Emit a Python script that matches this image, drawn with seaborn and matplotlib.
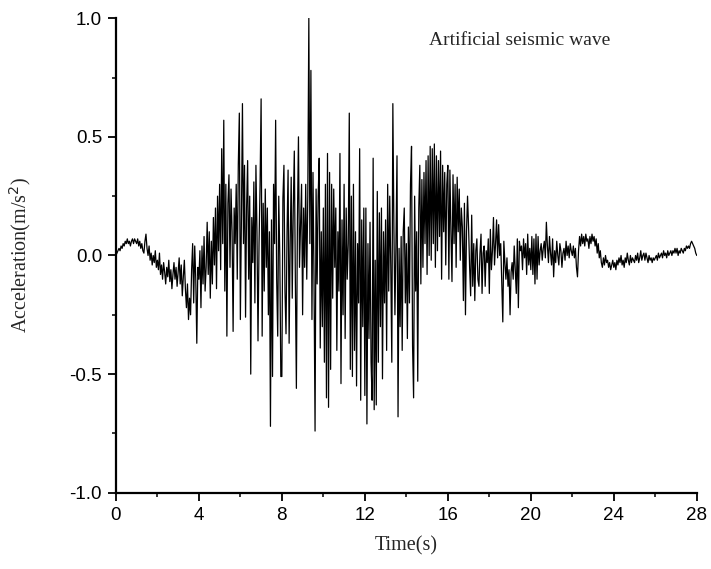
import numpy as np
import pandas as pd
import seaborn as sns
import matplotlib.pyplot as plt
from matplotlib.ticker import MultipleLocator

# sampling step of the record (s)
dt = 0.05

# acceleration (m/s^2)
acc_0_4 = [
    0.00, 0.01, 0.02, 0.03, 0.02, 0.04, 0.03, 0.05, 0.04, 0.06, 0.05, 0.07, 0.05, 0.06, 0.04, 0.06, 0.07, 0.05, 0.07, 0.06,
    0.05, 0.07, 0.04, 0.06, 0.03, 0.05, 0.02, 0.01, 0.06, 0.09, 0.03, 0.00, 0.04, -0.02, 0.01, -0.04, 0.00, -0.03, 0.02, -0.05,
    -0.02, -0.06, 0.01, -0.08, -0.04, -0.10, -0.03, -0.07, -0.12, -0.05, -0.09, -0.02, -0.11, -0.06, -0.14, -0.08, -0.03, -0.10, -0.05, -0.13,
    -0.07, -0.01, -0.12, -0.04, -0.17, -0.09, -0.02, -0.14, -0.22, -0.12, -0.27, -0.18, -0.25, -0.06, 0.05, -0.20, 0.04, -0.10, -0.37, -0.05,
]
acc_4_8 = [
    -0.10, 0.02, -0.22, 0.04, -0.12, 0.08, -0.15, -0.05, 0.14, -0.08, 0.10, -0.18, 0.06, -0.12, 0.16, -0.04, 0.20, -0.14, 0.25, 0.02,
    0.30, -0.06, 0.45, 0.05, 0.57, -0.15, 0.30, -0.34, 0.22, 0.34, -0.05, 0.28, 0.10, -0.32, 0.20, 0.05, 0.30, -0.10, 0.38, 0.60,
    -0.27, 0.15, 0.64, 0.05, 0.38, -0.26, 0.20, 0.40, -0.10, 0.25, -0.50, 0.16, -0.03, 0.31, -0.20, 0.38, 0.10, -0.36, 0.05, 0.30,
    0.66, -0.34, 0.22, -0.15, 0.28, -0.05, 0.20, -0.25, 0.10, -0.72, 0.15, -0.51, 0.30, 0.05, 0.57, -0.10, -0.34, 0.25, 0.00, -0.51,
]
acc_8_12 = [
    -0.51, 0.24, 0.38, -0.15, -0.33, 0.10, 0.36, -0.37, 0.05, 0.33, -0.18, 0.20, 0.44, -0.10, -0.56, 0.15, 0.50, -0.05, 0.12, 0.30,
    -0.25, 0.20, -0.05, 0.30, -0.10, 0.25, 1.00, 0.05, 0.78, -0.27, 0.35, -0.10, -0.74, 0.28, -0.12, 0.25, 0.41, -0.39, 0.10, -0.30,
    0.20, -0.45, 0.30, -0.60, 0.43, -0.64, 0.35, -0.48, 0.30, -0.18, 0.28, -0.05, 0.20, -0.40, 0.10, -0.15, 0.43, -0.54, 0.15, -0.25,
    0.30, -0.35, 0.20, -0.10, 0.05, 0.60, -0.48, 0.25, -0.51, 0.30, -0.40, 0.10, -0.55, 0.05, -0.20, 0.45, -0.61, 0.15, -0.30, 0.20,
]
acc_12_16 = [
    -0.59, 0.20, -0.71, 0.05, -0.35, 0.14, -0.45, -0.61, 0.41, -0.65, -0.02, -0.63, 0.27, -0.45, 0.18, -0.30, 0.20, -0.52, 0.10, -0.20,
    0.15, -0.40, 0.30, -0.15, 0.25, -0.05, -0.45, 0.64, 0.12, -0.25, 0.05, 0.42, -0.68, 0.03, -0.30, 0.08, -0.40, 0.10, 0.20, -0.20,
    0.05, -0.35, 0.12, -0.20, 0.30, 0.46, -0.38, -0.60, 0.25, -0.15, 0.10, -0.53, 0.20, 0.38, -0.12, 0.32, -0.05, 0.35, 0.05, 0.40,
    -0.08, 0.42, 0.00, 0.46, -0.02, 0.45, 0.05, 0.47, -0.05, 0.42, 0.02, 0.40, 0.08, 0.44, -0.10, 0.38, 0.10, 0.35, -0.04, 0.30,
]
acc_16_20 = [
    0.38, -0.10, 0.36, 0.10, -0.11, 0.34, 0.05, 0.30, -0.05, 0.33, 0.10, 0.28, -0.02, 0.20, 0.12, -0.19, 0.22, -0.25, 0.10, 0.25,
    0.12, -0.05, -0.17, 0.17, -0.13, 0.05, -0.19, 0.02, 0.07, -0.10, -0.13, 0.01, 0.09, -0.16, 0.01, 0.04, -0.13, 0.02, -0.03, 0.07,
    -0.16, 0.11, -0.06, 0.02, 0.16, -0.04, 0.05, 0.15, -0.01, 0.13, 0.00, 0.05, -0.12, -0.28, 0.06, -0.03, -0.10, -0.01, -0.13, -0.06,
    -0.25, -0.07, -0.03, -0.10, 0.04, -0.06, -0.16, 0.07, -0.22, 0.06, 0.02, 0.04, -0.06, 0.07, -0.01, 0.05, -0.08, 0.09, -0.04, 0.03,
]
acc_20_24 = [
    -0.06, 0.08, -0.08, 0.07, -0.12, 0.09, -0.10, 0.08, -0.04, 0.02, 0.05, -0.02, 0.03, 0.06, -0.01, 0.14, 0.04, -0.03, 0.08, 0.01,
    -0.04, 0.07, -0.09, 0.02, -0.03, 0.06, 0.00, -0.04, 0.05, 0.02, -0.05, 0.01, 0.03, -0.02, 0.06, 0.00, 0.04, -0.01, 0.05, 0.02,
    0.00, 0.04, -0.01, 0.03, -0.05, -0.09, 0.02, 0.08, 0.04, 0.09, 0.05, 0.08, 0.04, 0.09, 0.06, 0.07, 0.03, 0.08, 0.05, 0.09,
    0.06, 0.08, 0.04, 0.07, 0.01, 0.05, -0.01, 0.02, -0.03, -0.05, -0.01, -0.04, 0.00, -0.03, -0.02, -0.05, -0.03, -0.06, -0.04, -0.02,
]
acc_24_28 = [
    -0.05, -0.03, -0.06, -0.02, -0.04, -0.01, -0.03, 0.00, -0.04, -0.02, -0.05, -0.01, -0.03, 0.01, -0.02, -0.04, 0.00, -0.03, -0.01, -0.02,
    -0.03, 0.00, -0.02, 0.01, -0.03, -0.01, 0.02, -0.02, 0.00, 0.01, -0.02, 0.01, -0.01, -0.03, 0.00, -0.02, -0.01, -0.03, -0.01, -0.02,
    -0.01, 0.00, -0.02, 0.01, -0.01, 0.00, 0.01, -0.01, 0.02, 0.00, 0.01, -0.01, 0.02, 0.00, 0.01, 0.02, 0.00, 0.02, 0.01, 0.03,
    0.01, 0.03, 0.00, 0.02, 0.01, 0.03, 0.02, 0.01, 0.03, 0.02, 0.04, 0.03, 0.04, 0.03, 0.05, 0.06, 0.05, 0.04, 0.03, 0.01,
    0.00,
]

acc = acc_0_4 + acc_4_8 + acc_8_12 + acc_12_16 + acc_16_20 + acc_20_24 + acc_24_28
df = pd.DataFrame({'time': np.arange(len(acc)) * dt, 'acc': acc})

sns.set_style('ticks')
plt.rcParams['axes.unicode_minus'] = False

fig = plt.figure(figsize=(7.11, 5.69), dpi=100)
ax = fig.add_axes([0.163, 0.134, 0.817, 0.834])

sns.lineplot(data=df, x='time', y='acc', color='black', linewidth=0.9,
             estimator=None, ax=ax)

ax.set_xlim(0, 28)
ax.set_ylim(-1.0, 1.0)
ax.xaxis.set_major_locator(MultipleLocator(4))
ax.xaxis.set_minor_locator(MultipleLocator(2))
ax.yaxis.set_minor_locator(MultipleLocator(0.25))
ax.set_yticks([-1.0, -0.5, 0.0, 0.5, 1.0])
ax.set_yticklabels(['-1.0', '-0.5', '0.0', '0.5', '1.0'])

ax.tick_params(which='major', direction='out', length=6, width=1.3,
               labelsize=13.5, colors='black', pad=4)
ax.tick_params(which='minor', direction='out', length=3, width=1.3)
for lbl in ax.get_xticklabels() + ax.get_yticklabels():
    lbl.set_family('Liberation Sans')

sns.despine(ax=ax)
for s in ['left', 'bottom']:
    ax.spines[s].set_linewidth(1.6)
    ax.spines[s].set_color('black')

ax.set_xlabel('Time(s)', family='Liberation Serif', fontsize=14.5, labelpad=9)
ax.set_ylabel('Acceleration(m/s$^2$)', family='Liberation Serif', fontsize=14.5, labelpad=26)
ax.text(15.1, 0.885, 'Artificial seismic wave', family='Liberation Serif', fontsize=14)

fig.savefig('out.png', dpi=100)
